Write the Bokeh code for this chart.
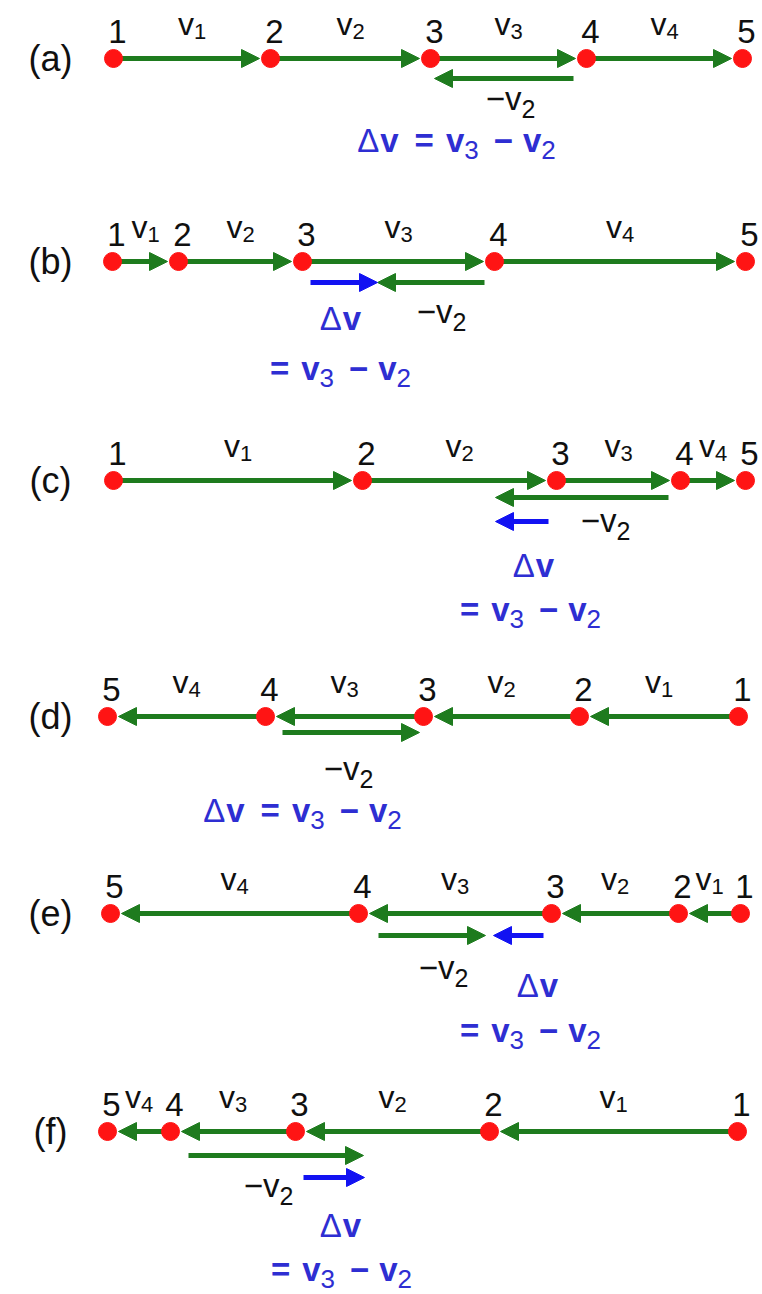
from bokeh.plotting import figure
from bokeh.models import Arrow, NormalHead, ColumnDataSource, Range1d
from bokeh.embed import file_html
from bokeh.resources import INLINE
from bokeh.core.properties import value

# ---------------- data ----------------
panels = ["(a)", "(b)", "(c)", "(d)", "(e)", "(f)"]
row_y = [58, 261, 480, 716, 913, 1131]
pos_a = [113, 270, 430, 586, 742]
pos_b = [112, 178, 302, 494, 745]
pos_c = [113, 362, 556, 680, 745]
pos_d = [738, 579, 423, 265, 107]
pos_e = [740, 678, 551, 358, 110]
pos_f = [737, 489, 295, 170, 107]
positions = [pos_a, pos_b, pos_c, pos_d, pos_e, pos_f]
point_labels = ["1", "2", "3", "4", "5"]
seg_subs = ["1", "2", "3", "4"]

# ---------------- layout ----------------
negv2_dy = [20, 21, 17, 16, 22, 24]          # -v2 arrow below the row
negv2_tail = [13, 10, 12, 17, 20, 18]        # gap from point 4
negv2_tip = [8, 7, 9, 2, 0, 1]               # shortening of the tip
dv_dy = [None, 21, 41, None, 22, 46]         # delta-v arrow below the row
dv_tip = [0, 7, -9, 0, -8, 0]                # lengthening of the tip
negv2_text = [(510, 110), (441, 323), (605, 532), (348, 780), (443, 979), (268, 1197)]
dv_text = [(456, 152, True), (340, 330, False), (533, 577, False), (302, 822, True),
           (537, 997, False), (340, 1237, False)]
eq_text = [None, (340, 380), (530, 621), None, (530, 1042), (341, 1281)]

GREEN = "#1e7b1e"
RED = "#ff1414"
BLUE_ARROW = "#1212f2"
BLUE_TEXT = "#2e2ed2"
BLACK = "#101010"
FONT = "Liberation Sans"
K = 0.36   # offset of the rendered baseline (in em)

W_REG = {"v": 500, "(": 333, ")": 333, "a": 556, "b": 556, "c": 500, "d": 556, "e": 556,
         "f": 278, "\u2212": 584, " ": 278, "=": 584, "\u0394": 668}
W_BOLD = {"v": 556, "\u2212": 584, " ": 278, "=": 584, "\u0394": 722}


def tw(t, bold):
    tab = W_BOLD if bold else W_REG
    return sum(tab.get(ch, 556) for ch in t) / 1000.0


p = figure(width=762, height=1294, x_range=Range1d(0, 762), y_range=Range1d(1294, 0),
           output_backend="svg", toolbar_location=None, min_border=0)
p.axis.visible = False
p.grid.visible = False
p.outline_line_color = None
p.background_fill_color = "white"


def rich(x, base, pieces, size, sub_size, drop, color, bold=False, anchor="center"):
    """pieces: (kind, content); 'n' text, 'r' regular-weight text, 's' subscript, 'g' gap px"""
    def weight(kind):
        return bold and kind == "n"

    def pw(kind, c):
        if kind == "g":
            return c
        return tw(c, weight(kind)) * (sub_size if kind == "s" else size)
    total = sum(pw(k, c) for k, c in pieces)
    cx = x - total / 2 if anchor == "center" else x
    for kind, c in pieces:
        if kind != "g":
            s = sub_size if kind == "s" else size
            b = base + (drop if kind == "s" else 0)
            p.text(x=[cx], y=[b - K * s], text=[c], text_font=value(FONT),
                   text_font_size=value(f"{s:.1f}px"),
                   text_font_style="bold" if weight(kind) else "normal", text_color=color,
                   text_align="left", text_baseline="alphabetic")
        cx += pw(kind, c)


def arrows(x0, y0, x1, y1, color, lw=5, head=18):
    src = ColumnDataSource(dict(x0=x0, y0=y0, x1=x1, y1=y1))
    a = Arrow(end=NormalHead(size=head, fill_color=color, line_color=color, line_width=1),
              x_start="x0", y_start="y0", x_end="x1", y_end="y1", source=src,
              line_color=color, line_width=lw, level="underlay")
    p.add_layout(a)


for i, (lab, y, pos) in enumerate(zip(panels, row_y, positions)):
    # panel label
    rich(50, y + 13, [("n", lab)], 36, 36, 0, BLACK)
    # displacement arrows v1..v4
    x0 = [pos[k] for k in range(4)]
    x1 = [pos[k + 1] - 11 * (1 if pos[k + 1] > pos[k] else -1) for k in range(4)]
    arrows(x0, [y] * 4, x1, [y] * 4, GREEN)
    # -v2 arrow, drawn from point 4
    v2 = pos[2] - pos[1]
    s2 = -1 if v2 > 0 else 1
    yn = y + negv2_dy[i]
    arrows([pos[3] + negv2_tail[i] * s2], [yn], [pos[3] - v2 - negv2_tip[i] * s2], [yn], GREEN)
    # delta v arrow, drawn from point 3
    if dv_dy[i] is not None:
        v3 = pos[3] - pos[2]
        dv = v3 - v2
        sd = 1 if dv > 0 else -1
        yb = y + dv_dy[i]
        arrows([pos[2] + 8 * sd], [yb], [pos[2] + dv + dv_tip[i] * sd], [yb], BLUE_ARROW, head=18)
    # dots
    p.scatter(x=pos, y=[y] * 5, size=18, fill_color=RED, line_color=RED)
    # point numbers
    for k in range(5):
        rich(pos[k] + 4, y - 15, [("n", point_labels[k])], 33, 33, 0, BLACK)
    # segment labels
    for k in range(4):
        mid = (pos[k] + pos[k + 1]) / 2
        rich(mid, y - 23, [("n", "v"), ("s", seg_subs[k])], 32, 22, 4, BLACK)
    # -v2 label
    nx, ny = negv2_text[i]
    rich(nx, ny, [("n", "\u2212v"), ("s", "2")], 33, 25, 7, BLACK)
    # delta v labels
    dx, dyb, full = dv_text[i]
    eq = [("n", "="), ("g", 12), ("n", "v"), ("s", "3"), ("g", 15), ("n", "\u2212"), ("g", 10),
          ("n", "v"), ("s", "2")]
    dvp = [("r", "\u0394"), ("g", 1), ("n", "v")]
    if full:
        rich(dx, dyb, dvp + [("g", 16)] + eq, 33, 26, 7, BLUE_TEXT, bold=True)
    else:
        rich(dx, dyb, dvp, 33, 26, 7, BLUE_TEXT, bold=True)
        ex, eyb = eq_text[i]
        rich(ex, eyb, eq, 33, 26, 7, BLUE_TEXT, bold=True)

open("out.html", "w").write(file_html(p, INLINE))
